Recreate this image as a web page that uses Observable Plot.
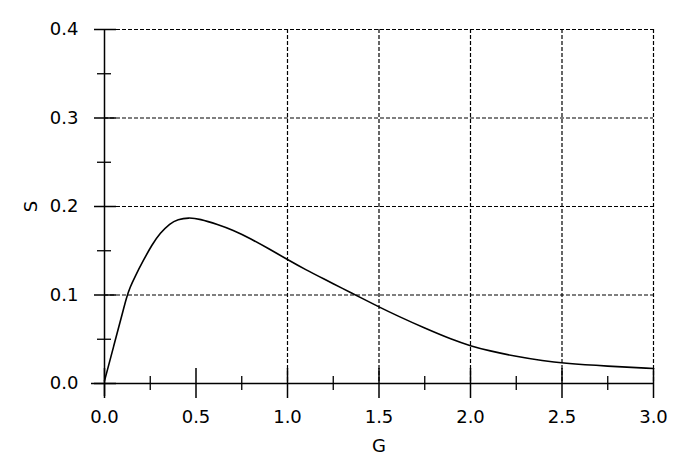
<!DOCTYPE html>
<html>
<head>
<meta charset="utf-8">
<script src="https://cdn.jsdelivr.net/npm/d3@7"></script>
<script src="https://cdn.jsdelivr.net/npm/@observablehq/plot@0.6"></script>
<style>
  html, body { margin: 0; padding: 0; background: #fff; }
  #chart svg { display: block; }
  #chart svg text { font-family: "DejaVu Sans", sans-serif; font-size: 18px !important; fill: #000; }
</style>
</head>
<body>
<div id="chart"></div>
<script>
const G = [0, 0.05, 0.1, 0.12, 0.14, 0.167, 0.212, 0.26, 0.304, 0.358, 0.4, 0.46, 0.52, 0.62, 0.7, 0.8, 0.9, 1.0, 1.1, 1.2, 1.3, 1.4, 1.5, 1.6, 1.75, 1.9, 2.0, 2.1, 2.25, 2.4, 2.5, 2.75, 3.0];
const S = [0.003, 0.042, 0.081, 0.097, 0.109, 0.121, 0.139, 0.157, 0.170, 0.181, 0.1855, 0.1875, 0.186, 0.1795, 0.1735, 0.1635, 0.152, 0.140, 0.1285, 0.118, 0.1075, 0.097, 0.0865, 0.0765, 0.0625, 0.0495, 0.0425, 0.037, 0.0305, 0.0255, 0.023, 0.0195, 0.017];

const xMajor = [0, 0.5, 1.0, 1.5, 2.0, 2.5, 3.0];
const xMinor = [0.25, 0.75, 1.25, 1.75, 2.25, 2.75];
const yMajor = [0, 0.1, 0.2, 0.3, 0.4];
const yMinor = [0.05, 0.15, 0.25, 0.35];
const xGrid = [1.0, 1.5, 2.0, 2.5, 3.0];
const yGrid = [0.1, 0.2, 0.3, 0.4];

const data = G.map((g, i) => ({G: g, S: S[i]}));
const fmt = d3.format(".1f");
const dash = "4,2";

const chart = Plot.plot({
  width: 692,
  height: 462,
  marginLeft: 104,
  marginRight: 39,
  marginTop: 29,
  marginBottom: 79,
  style: {fontFamily: "DejaVu Sans", fontSize: "18px", color: "#000", background: "#fff"},
  x: {domain: [0, 3]},
  y: {domain: [0, 0.4]},
  marks: [
    Plot.ruleY(yGrid, {stroke: "#000", strokeWidth: 1.2, strokeDasharray: dash}),
    Plot.ruleX(xGrid, {stroke: "#000", strokeWidth: 1.2, strokeDasharray: dash}),
    // axis lines
    Plot.ruleY([0], {stroke: "#000", strokeWidth: 1.5, insetLeft: -13}),
    Plot.ruleX([0], {stroke: "#000", strokeWidth: 1.5, insetBottom: -13}),
    // y ticks (outward and inward)
    Plot.axisY(yMajor, {anchor: "left", tickSize: 10, text: null, label: null, strokeWidth: 1.5}),
    Plot.axisY(yMajor, {anchor: "left", tickSize: -12, text: null, label: null, strokeWidth: 1.5}),
    Plot.axisY(yMinor, {anchor: "left", tickSize: 7, text: null, label: null, strokeWidth: 1.3}),
    Plot.axisY(yMinor, {anchor: "left", tickSize: -7, text: null, label: null, strokeWidth: 1.3}),
    Plot.axisY(yMajor, {anchor: "left", tickSize: 0, tickPadding: 26, tickFormat: fmt, label: "S", labelAnchor: "center", labelOffset: 80, labelArrow: "none"}),
    // x ticks
    Plot.axisX(xMajor, {anchor: "bottom", tickSize: 15, text: null, label: null, strokeWidth: 1.5}),
    Plot.axisX(xMajor, {anchor: "bottom", tickSize: -15, text: null, label: null, strokeWidth: 1.5}),
    Plot.axisX(xMinor, {anchor: "bottom", tickSize: 7, text: null, label: null, strokeWidth: 1.3}),
    Plot.axisX(xMinor, {anchor: "bottom", tickSize: -7, text: null, label: null, strokeWidth: 1.3}),
    Plot.axisX(xMajor, {anchor: "bottom", tickSize: 0, tickPadding: 27, tickFormat: fmt, label: "G", labelAnchor: "center", labelOffset: 68, labelArrow: "none"}),
    // curve
    Plot.line(data, {x: "G", y: "S", stroke: "#000", strokeWidth: 1.6, curve: "basis"})
  ]
});
document.getElementById("chart").appendChild(chart);
</script>
</body>
</html>
